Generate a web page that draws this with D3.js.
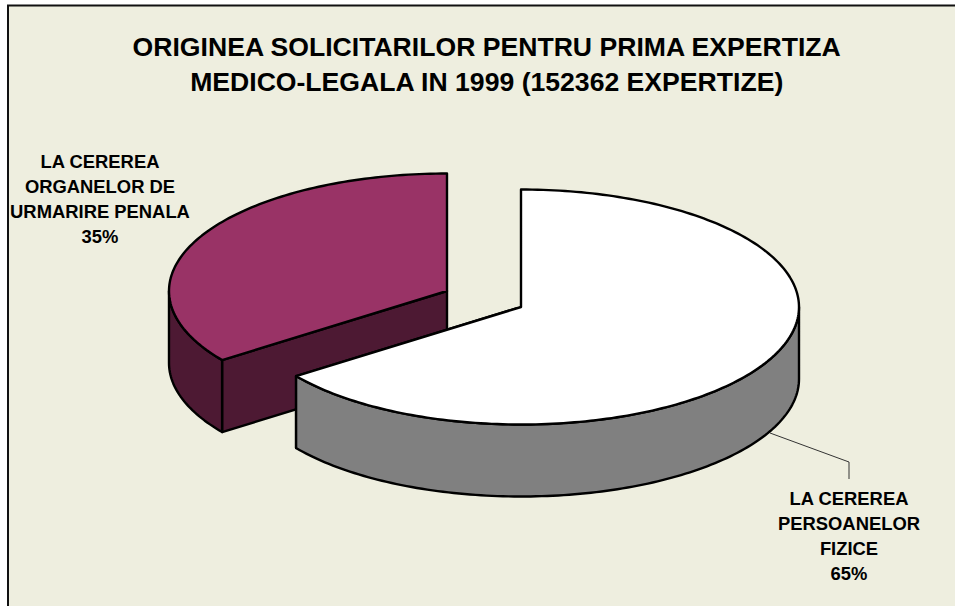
<!DOCTYPE html>
<html>
<head>
<meta charset="utf-8">
<script src="https://cdnjs.cloudflare.com/ajax/libs/d3/7.8.5/d3.min.js"></script>
<style>
html,body{margin:0;padding:0;background:#fff;overflow:hidden}
svg{display:block}
text{font-family:"Liberation Sans",Arial,sans-serif;font-weight:bold;fill:#000;text-anchor:middle}
</style>
</head>
<body>
<svg id="c" width="955" height="606"></svg>
<script>
const categories = ["LA CEREREA PERSOANELOR FIZICE", "LA CEREREA ORGANELOR DE URMARIRE PENALA"];
const values = [65, 35];
const percentLabels = ["65%", "35%"];
const titleLines = ["ORIGINEA SOLICITARILOR PENTRU PRIMA EXPERTIZA", "MEDICO-LEGALA IN 1999 (152362 EXPERTIZE)"];
const labelLines = [
  ["LA CEREREA", "PERSOANELOR", "FIZICE", "65%"],
  ["LA CEREREA", "ORGANELOR DE", "URMARIRE PENALA", "35%"]
];

const svg = d3.select("#c");
const W = 955, H = 606;
const BG = "#EEEEDF";
svg.append("rect").attr("x", 8).attr("y", 5.5).attr("width", W + 20).attr("height", H + 20)
  .attr("fill", BG).attr("stroke", "#111").attr("stroke-width", 2);

const pie = d3.pie().sort(null).value(d => d);
const arcs = pie(values);

const rx = 278, ry = 117.5, depth = 72;
const centers = [{x: 521, y: 307}, {x: 447, y: 291}];
const topFill = ["#FFFFFF", "#993366"];
const sideFill = ["#808080", "#4D1933"];

function pt(c, a, dy = 0) {
  return [c.x + rx * Math.sin(a), c.y - ry * Math.cos(a) + dy];
}
function sample(c, a0, a1, dy = 0) {
  const n = Math.max(2, Math.ceil(Math.abs(a1 - a0) / 0.02));
  return d3.range(n + 1).map(i => pt(c, a0 + (a1 - a0) * i / n, dy));
}
const line = d3.line();
const closed = d3.line().curve(d3.curveLinearClosed);
const draw = (pts, fill) => svg.append("path").attr("d", closed(pts)).attr("fill", fill)
  .attr("stroke", "#000").attr("stroke-width", 2.4).attr("stroke-linejoin", "round");

function drawSides(i) {
  const c = centers[i], d = arcs[i];
  const center = [c.x, c.y];
  const centerLow = [c.x, c.y + depth];
  const rad = i === 1 ? d.startAngle : d.endAngle;
  const e = pt(c, rad), eLow = pt(c, rad, depth);
  draw([center, e, eLow, centerLow], sideFill[i]);
  const a0 = Math.max(d.startAngle, Math.PI / 2), a1 = Math.min(d.endAngle, 3 * Math.PI / 2);
  draw(sample(c, a0, a1).concat(sample(c, a1, a0, depth)), sideFill[i]);
}
function drawTop(i) {
  const c = centers[i], d = arcs[i];
  draw([[c.x, c.y]].concat(sample(c, d.startAngle, d.endAngle)), topFill[i]);
}
drawSides(1); drawTop(1);
drawSides(0); drawTop(0);

svg.append("path").attr("d", line([[770, 433], [849, 462], [849, 479]]))
  .attr("fill", "none").attr("stroke", "#333").attr("stroke-width", 1);

const title = svg.append("g").attr("font-size", 26.6);
titleLines.forEach((t, i) => title.append("text").attr("x", 486.7).attr("y", 56 + i * 35).text(t));

const labelPos = [{x: 849, y: 505}, {x: 100, y: 168}];
labelLines.forEach((ls, k) => {
  const g = svg.append("g").attr("font-size", 18.4);
  ls.forEach((t, i) => g.append("text").attr("x", labelPos[k].x).attr("y", labelPos[k].y + i * 25).text(t));
});
</script>
</body>
</html>
